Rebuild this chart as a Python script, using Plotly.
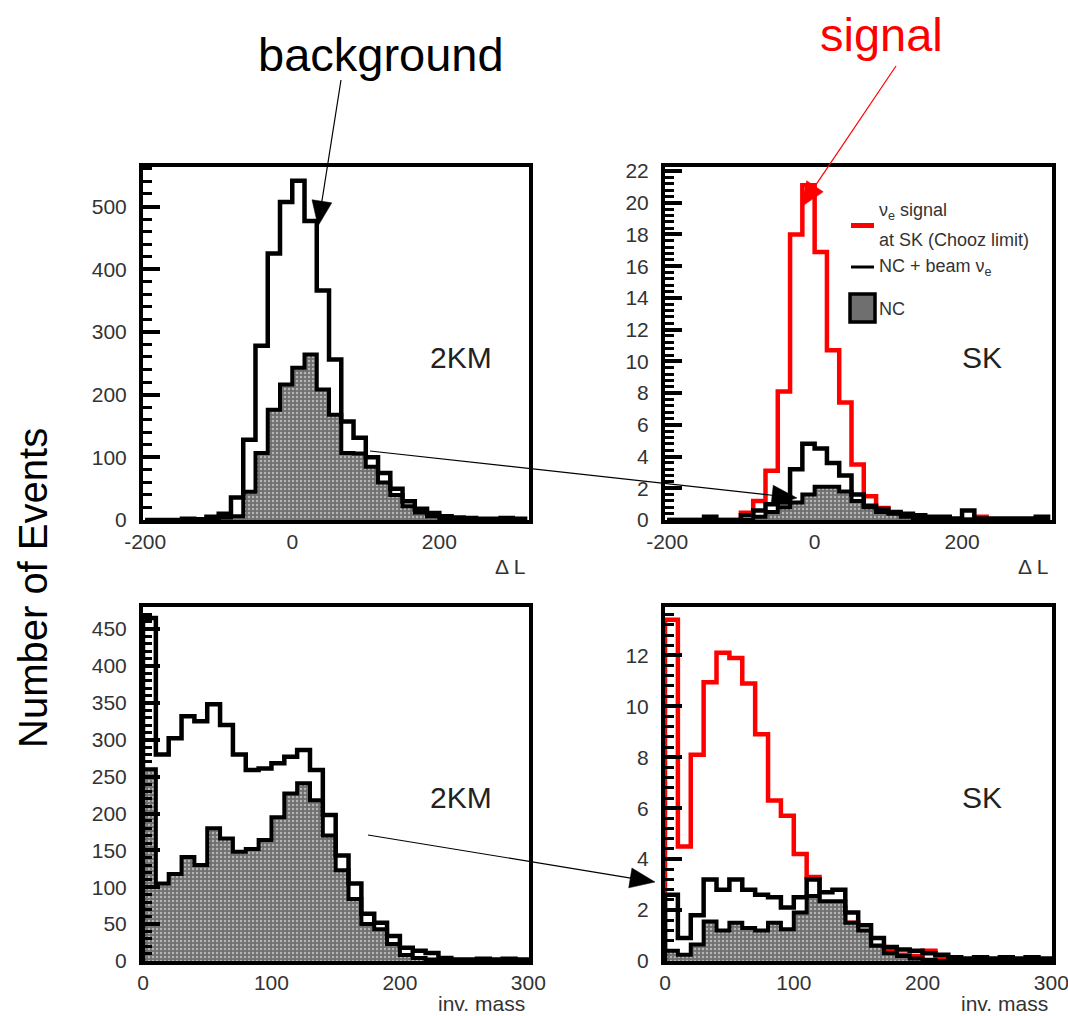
import math
import plotly.graph_objects as go

# ---------------- data ----------------
# Delta L histograms: bins of width 50/3 starting at -200
dl_lo = -200.0
dl_w = 50.0 / 3.0
# invariant-mass histograms: bins of width 10 starting at 0
mass_lo = 0.0
mass_w = 10.0

km2_dl_total = [0, 0, 0, 2, 1, 5, 10, 36, 128, 278, 425, 507, 541, 477, 366, 256,
                157, 131, 100, 75, 50, 30, 18, 11, 6, 4, 3, 2, 2, 3, 2]
km2_dl_nc = [0, 0, 0, 0, 0, 2, 4, 6, 45, 107, 176, 216, 243, 264, 208, 168,
             107, 106, 85, 60, 40, 22, 12, 6, 3, 2, 1, 0, 0, 0, 0]

sk_dl_signal = [0, 0, 0, 0, 0, 0, 0.45, 1.2, 3.1, 8.1, 18.0, 21.1, 16.9, 10.7, 7.4, 3.5,
                1.5, 0.75, 0.25, 0.1, 0.05, 0.05, 0.05, 0.05, 0.05, 0.2, 0, 0, 0, 0, 0]
sk_dl_total = [0, 0, 0, 0.2, 0, 0, 0.3, 0.6, 1.0, 1.1, 3.2, 4.8, 4.5, 3.6, 2.8, 1.6,
               0.9, 0.7, 0.5, 0.4, 0.3, 0.2, 0.2, 0.1, 0.6, 0.1, 0.1, 0.1, 0.1, 0.1, 0.2]
sk_dl_nc = [0, 0, 0, 0, 0, 0, 0, 0.2, 0.5, 0.8, 1.1, 1.6, 2.1, 2.1, 1.8, 1.2,
            0.8, 0.5, 0.4, 0.2, 0.1, 0, 0, 0, 0, 0, 0, 0, 0, 0, 0]

km2_mass_total = [465, 280, 302, 332, 325, 348, 320, 280, 259, 261, 268, 277, 286, 259, 198,
                  143, 105, 64, 52, 34, 18, 14, 11, 4, 2, 2, 3, 2, 3, 2]
km2_mass_nc = [260, 105, 118, 141, 130, 180, 166, 148, 152, 164, 195, 227, 241, 218, 170,
               123, 84, 50, 43, 23, 8, 4, 2, 1, 1, 0, 0, 0, 0, 0]

sk_mass_signal = [13.4, 4.5, 8.1, 10.95, 12.1, 11.9, 10.9, 8.9, 6.3, 5.7, 4.2, 3.3, 2.3, 2.1, 1.5,
                  0.9, 0.6, 0.4, 0.25, 0.2, 0.4, 0.1, 0, 0, 0, 0, 0, 0, 0, 0]
sk_mass_total = [2.6, 0.9, 1.8, 3.2, 2.8, 3.2, 2.8, 2.6, 2.5, 2.1, 2.5, 3.2, 2.7, 2.8, 1.9,
                 1.4, 0.9, 0.55, 0.45, 0.4, 0.3, 0.25, 0.15, 0.1, 0.15, 0.1, 0.15, 0.1, 0.15, 0.1]
sk_mass_nc = [0.4, 0.25, 0.65, 1.55, 1.2, 1.5, 1.3, 1.2, 1.5, 1.25, 1.9, 2.55, 2.35, 2.35, 1.5,
              1.2, 0.6, 0.3, 0.2, 0.1, 0.05, 0, 0, 0, 0, 0, 0, 0, 0, 0]

dl_tickvals = [-200, 0, 200]
dl_ticktext = ["-200", "0", "200"]
mass_tickvals = [0, 100, 200, 300]
mass_ticktext = ["0", "100", "200", "300"]

W, H = 1068, 1016
FONT = "Liberation Sans"


def step_xy(lo, w, counts):
    edges = [lo + i * w for i in range(len(counts) + 1)]
    xs = [edges[0]] + edges[:-1] + [edges[-1], edges[-1]]
    ys = [0] + list(counts) + [counts[-1], 0]
    return xs, ys


def px(x, y):
    return x / W, 1 - y / H


fig = go.Figure()

NC_FILL = "#6f6f6f"


def add_panel(idx, lo, w, total, nc, signal=None):
    xa = "x" if idx == 1 else f"x{idx}"
    ya = "y" if idx == 1 else f"y{idx}"
    if signal is not None:
        xs, ys = step_xy(lo, w, signal)
        fig.add_trace(go.Scatter(x=xs, y=ys, mode="lines",
                                 line=dict(color="#ff0000", width=4.5, shape="hv"),
                                 xaxis=xa, yaxis=ya, showlegend=False, hoverinfo="skip"))
    xs, ys = step_xy(lo, w, nc)
    fig.add_trace(go.Scatter(x=xs, y=ys, mode="lines", fill="tozeroy", fillcolor=NC_FILL,
                             fillpattern=dict(shape=".", fgcolor="#b4b4b4", bgcolor=NC_FILL,
                                              size=4, solidity=0.3),
                             line=dict(color="black", width=4, shape="hv"),
                             xaxis=xa, yaxis=ya, showlegend=False, hoverinfo="skip"))
    xs, ys = step_xy(lo, w, total)
    fig.add_trace(go.Scatter(x=xs, y=ys, mode="lines",
                             line=dict(color="black", width=4.5, shape="hv"),
                             xaxis=xa, yaxis=ya, showlegend=False, hoverinfo="skip"))


add_panel(1, dl_lo, dl_w, km2_dl_total, km2_dl_nc)
add_panel(2, dl_lo, dl_w, sk_dl_total, sk_dl_nc, sk_dl_signal)
add_panel(3, mass_lo, mass_w, km2_mass_total, km2_mass_nc)
add_panel(4, mass_lo, mass_w, sk_mass_total, sk_mass_nc, sk_mass_signal)

xL = [143 / W, 529 / W]
xR = [665 / W, 1052 / W]
yT = [1 - 520 / H, 1 - 167 / H]
yB = [1 - 961 / H, 1 - 607 / H]

tickfont = dict(family=FONT, size=21, color="#333333")


def xaxis_cfg(domain, anchor, rng, vals, texts):
    return dict(domain=domain, anchor=anchor, range=rng, tickmode="array",
                tickvals=vals, ticktext=texts, automargin=False, ticklabeloverflow="allow",
                showline=True, linecolor="black", linewidth=4, mirror=True,
                ticks="", showgrid=False, zeroline=False, tickfont=tickfont)


def yaxis_cfg(domain, anchor, rng, dtick, minor_dtick):
    return dict(domain=domain, anchor=anchor, range=rng, dtick=dtick, tick0=0, automargin=False,
                showline=True, linecolor="black", linewidth=4, mirror=True,
                ticks="inside", ticklen=17, tickwidth=4, tickcolor="black",
                minor=dict(ticks="inside", ticklen=9, tickwidth=3, tickcolor="black", dtick=minor_dtick),
                showgrid=False, zeroline=False, tickfont=tickfont, ticklabelstandoff=8)


fig.update_layout(
    template="none",
    width=W, height=H, margin=dict(l=0, r=0, t=0, b=0, autoexpand=False),
    paper_bgcolor="white", plot_bgcolor="white",
    xaxis=xaxis_cfg(xL, "y", [-203, 322], dl_tickvals, dl_ticktext),
    yaxis=yaxis_cfg(yT, "x", [0, 563], 100, 20),
    xaxis2=xaxis_cfg(xR, "y2", [-203, 322], dl_tickvals, dl_ticktext),
    yaxis2=yaxis_cfg(yT, "x2", [0, 22.25], 2, 0.4),
    xaxis3=xaxis_cfg(xL, "y3", [0, 300.5], mass_tickvals, mass_ticktext),
    yaxis3=yaxis_cfg(yB, "x3", [0, 480], 50, 10),
    xaxis4=xaxis_cfg(xR, "y4", [0, 300.5], mass_tickvals, mass_ticktext),
    yaxis4=yaxis_cfg(yB, "x4", [0, 13.9], 2, 0.4),
)

ann = []


def text(x, y, s, size, color="black", xanchor="center", angle=0):
    X, Y = px(x, y)
    ann.append(dict(x=X, y=Y, xref="paper", yref="paper", text=s, showarrow=False,
                    xanchor=xanchor, yanchor="middle", textangle=angle,
                    font=dict(family=FONT, size=size, color=color)))


text(381, 54, "background", 47)
text(881, 34, "signal", 47, color="#ff0000")
text(33, 588, "Number of Events", 40, angle=-90)
text(461, 357, "2KM", 30, color="#222222")
text(982, 357, "SK", 30, color="#222222")
text(461, 797, "2KM", 30, color="#222222")
text(982, 797, "SK", 30, color="#222222")
text(527, 566, "Δ L", 21, color="#333333", xanchor="right")
text(1050, 566, "Δ L", 21, color="#333333", xanchor="right")
text(527, 1003, "inv. mass", 21, color="#333333", xanchor="right")
text(1050, 1003, "inv. mass", 21, color="#333333", xanchor="right")

# legend (top-right panel)
text(877, 212, "ν<sub>e</sub> signal", 18, color="#333333", xanchor="left")
text(877, 240, "at SK (Chooz limit)", 18, color="#333333", xanchor="left")
text(877, 267, "NC + beam ν<sub>e</sub>", 18, color="#333333", xanchor="left")
text(877, 309, "NC", 18, color="#333333", xanchor="left")

shapes = []
x0, y0 = px(851, 225.5)
x1, y1 = px(874, 225.5)
shapes.append(dict(type="line", xref="paper", yref="paper", x0=x0, y0=y0, x1=x1, y1=y1,
                   line=dict(color="#ff0000", width=5)))
x0, y0 = px(851, 267)
x1, y1 = px(874, 267)
shapes.append(dict(type="line", xref="paper", yref="paper", x0=x0, y0=y0, x1=x1, y1=y1,
                   line=dict(color="black", width=3)))
x0, y0 = px(850, 294)
x1, y1 = px(875, 322)
shapes.append(dict(type="rect", xref="paper", yref="paper", x0=x0, y0=y0, x1=x1, y1=y1,
                   fillcolor=NC_FILL, line=dict(color="black", width=3.5)))


def arrow(tail, tip, color, head_len=25, head_half=10):
    dx, dy = tip[0] - tail[0], tip[1] - tail[1]
    L = math.hypot(dx, dy)
    ux, uy = dx / L, dy / L
    nx, ny = -uy, ux
    bx, by = tip[0] - head_len * ux, tip[1] - head_len * uy
    # shaft
    a0, b0 = px(*tail)
    a1, b1 = px(bx + 2 * ux, by + 2 * uy)
    shapes.append(dict(type="line", xref="paper", yref="paper", x0=a0, y0=b0, x1=a1, y1=b1,
                       line=dict(color=color, width=1.2)))
    # head
    p1 = px(*tip)
    p2 = px(bx + head_half * nx, by + head_half * ny)
    p3 = px(bx - head_half * nx, by - head_half * ny)
    path = f"M {p1[0]} {p1[1]} L {p2[0]} {p2[1]} L {p3[0]} {p3[1]} Z"
    shapes.append(dict(type="path", xref="paper", yref="paper", path=path,
                       fillcolor=color, line=dict(color=color, width=0.5)))


arrow((341, 80), (318, 226), "black")
arrow((896, 66), (801, 207), "#ff0000")
arrow((370, 451), (797, 498), "black")
arrow((368, 835), (655, 882), "black")

fig.update_layout(annotations=ann, shapes=shapes)

fig.write_html("out.html")
